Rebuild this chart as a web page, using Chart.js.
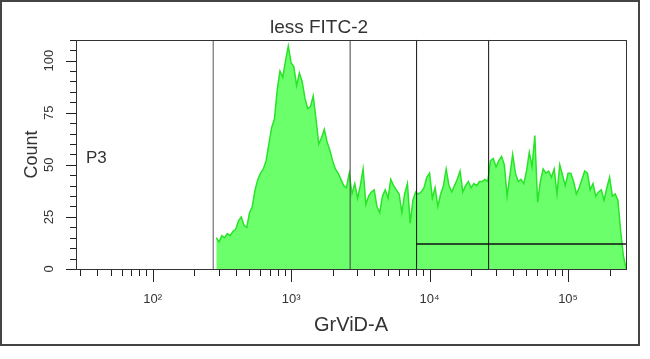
<!DOCTYPE html>
<html>
<head>
<meta charset="utf-8">
<script src="https://cdn.jsdelivr.net/npm/chart.js@4.4.0/dist/chart.umd.min.js"></script>
<style>
	html, body { margin: 0; padding: 0; background: #fff; }
</style>
</head>
<body>
<canvas id="plot" width="650" height="359"></canvas>
<script>
// histogram bins: channel i sits at 10^(binStartLog + i * binStepLog)
const binStartLog = 2.46;
const binStepLog = 0.02;
const counts = [
	15, 13, 16, 15, 17, 16, 18, 19, 23, 25,
	21, 20, 27, 30, 38, 43, 46, 48, 52, 60,
	68, 72, 86, 95, 92, 100, 107, 99, 97, 88,
	94, 90, 82, 77, 78, 83, 72, 60, 63, 67,
	61, 57, 52, 48, 46, 43, 40, 39, 46, 36,
	41, 34, 40, 48, 31, 35, 37, 38, 30, 27,
	35, 38, 34, 43, 40, 38, 36, 27, 36, 41,
	22, 33, 37, 36, 37, 39, 44, 46, 34, 39,
	30, 36, 40, 48, 40, 37, 40, 43, 47, 37,
	40, 42, 39, 41, 40, 42, 42, 43, 42, 52,
	53, 49, 52, 54, 50, 35, 45, 55, 46, 42,
	43, 41, 47, 56, 49, 64, 32, 42, 48, 46,
	47, 44, 48, 36, 50, 45, 40, 46, 46, 42,
	36, 39, 43, 47, 46, 38, 41, 35, 37, 38,
	33, 39, 44, 35, 36, 33, 18, 6, 0
];

// marker gates
const gateLines = [274, 2670, 8060, 26700];
const rangeGate = [8060, 262000];
const rangeGateLevel = 12;

const xRange = [28, 262000];
const yRange = [0, 110];
const xMajorTicks = [100, 1000, 10000, 100000];
const xTickLabels = ['10²', '10³', '10⁴', '10⁵'];
const yMajorTicks = [0, 25, 50, 75, 100];
const yStep = 5;

const FONT = '"Liberation Sans", Arial, sans-serif';
const TEXT = '#333';

const histPoints = counts.map((c, i) => ({ x: Math.pow(10, binStartLog + i * binStepLog), y: c }));

const gateColors = ['#555', '#444', '#111', '#111'];
const gateSets = gateLines.map((g, i) => ({
	type: 'line',
	data: [{ x: g, y: yRange[0] }, { x: g, y: yRange[1] }],
	borderColor: gateColors[i],
	borderWidth: 1,
	pointRadius: 0,
	fill: false,
	order: 0
}));

// minor + major log ticks inside the range
const xTickValues = [];
[10, 100, 1000, 10000, 100000].forEach(d => {
	for (let m = 1; m < 10; m++) {
		const v = d * m;
		if (v >= xRange[0] && v <= xRange[1]) xTickValues.push(v);
	}
});

const frame = {
	id: 'frame',
	afterDraw(chart) {
		const ctx = chart.ctx, a = chart.chartArea;
		const xs = chart.scales.x, ys = chart.scales.y;
		ctx.save();
		ctx.strokeStyle = '#222';
		ctx.lineWidth = 1;
		ctx.beginPath();
		xs.ticks.forEach(t => {
			const px = Math.round(xs.getPixelForValue(t.value)) + 0.5;
			const len = xMajorTicks.includes(t.value) ? 13 : 7;
			ctx.moveTo(px, a.bottom);
			ctx.lineTo(px, a.bottom + len);
		});
		ys.ticks.forEach(t => {
			const py = Math.round(ys.getPixelForValue(t.value)) + 0.5;
			const len = yMajorTicks.includes(t.value) ? 10 : 6;
			ctx.moveTo(a.left, py);
			ctx.lineTo(a.left - len, py);
		});
		ctx.stroke();
		ctx.strokeStyle = '#333';
		ctx.strokeRect(Math.round(a.left) + 0.5, Math.round(a.top) + 0.5, Math.round(a.right - a.left), Math.round(a.bottom - a.top));
		ctx.lineWidth = 2;
		ctx.strokeStyle = '#444';
		ctx.strokeRect(1, 1, 638, 344);
		ctx.fillStyle = TEXT;
		ctx.font = '17px ' + FONT;
		ctx.textBaseline = 'middle';
		ctx.fillText('P3', 86, 158);
		ctx.restore();
	}
};

const plot = new Chart(document.getElementById('plot').getContext('2d'), {
	type: 'line',
	data: {
		datasets: [{
			label: 'GrViD-A',
			data: histPoints,
			fill: 'origin',
			borderWidth: 1.5,
			lineTension: 0,
			pointRadius: 0,
			borderColor: 'rgb(40, 228, 40)',
			backgroundColor: 'rgb(108, 255, 108)',
			order: 1
		}, ...gateSets, {
			type: 'line',
			data: [{ x: rangeGate[0], y: rangeGateLevel }, { x: rangeGate[1], y: rangeGateLevel }],
			borderColor: '#111',
			borderWidth: 1.5,
			pointRadius: 0,
			fill: false,
			order: 0
		}]
	},
	options: {
		responsive: false,
		devicePixelRatio: 1,
		animation: false,
		layout: {
			padding: { left: 12, right: 24, top: 4, bottom: 10 }
		},
		plugins: {
			legend: { display: false },
			tooltip: { enabled: false },
			title: {
				display: true,
				text: 'less FITC-2',
				color: TEXT,
				font: { family: FONT, size: 19, weight: 'normal' },
				padding: { top: 12, bottom: 1 }
			}
		},
		scales: {
			x: {
				type: 'logarithmic',
				min: xRange[0],
				max: xRange[1],
				afterFit: s => { s.height = 80; },
				afterBuildTicks: s => { s.ticks = xTickValues.map(v => ({ value: v })); },
				grid: { display: false },
				border: { display: false },
				title: {
					display: true,
					text: 'GrViD-A',
					color: TEXT,
					font: { family: FONT, size: 20 },
					padding: { top: 0, bottom: 12 }
				},
				ticks: {
					autoSkip: false,
					maxRotation: 0,
					padding: 15,
					color: TEXT,
					font: { family: FONT, size: 13 },
					callback: v => {
						const i = xMajorTicks.indexOf(v);
						return i >= 0 ? xTickLabels[i] : '';
					}
				}
			},
			y: {
				type: 'linear',
				min: yRange[0],
				max: yRange[1],
				afterFit: s => { s.width = 64; },
				grid: { display: false },
				border: { display: false },
				title: {
					display: true,
					text: 'Count',
					color: TEXT,
					font: { family: FONT, size: 18 },
					padding: { top: 9, bottom: 0 }
				},
				ticks: {
					stepSize: yStep,
					autoSkip: false,
					minRotation: 90,
					maxRotation: 90,
					crossAlign: 'center',
					padding: 8,
					color: TEXT,
					font: { family: FONT, size: 13 },
					callback: v => yMajorTicks.includes(v) ? String(v) : ''
				}
			}
		}
	},
	plugins: [frame]
});
</script>
</body>
</html>
